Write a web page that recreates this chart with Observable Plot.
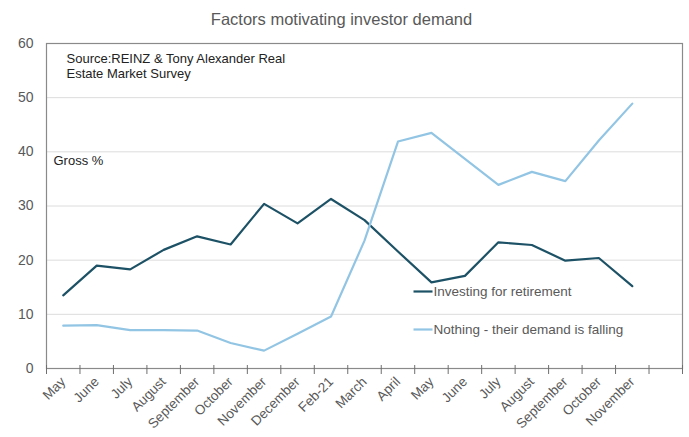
<!DOCTYPE html>
<html>
<head>
<meta charset="utf-8">
<script src="https://cdn.jsdelivr.net/npm/d3@7"></script>
<script src="https://cdn.jsdelivr.net/npm/@observablehq/plot@0.6"></script>
<style>
  html, body { margin: 0; padding: 0; background: #fff; }
  #chart svg { display: block; }
</style>
</head>
<body>
<div id="chart"></div>
<script>
const months = ["May","June","July","August","September","October","November","December","Feb-21","March","April","May","June","July","August","September","October","November"];
const retirement = [13.5, 19.0, 18.3, 21.9, 24.4, 22.9, 30.4, 26.8, 31.3, 27.4, 21.6, 15.9, 17.1, 23.3, 22.8, 19.9, 20.4, 15.2];
const falling = [7.9, 8.0, 7.1, 7.1, 7.0, 4.7, 3.3, 6.4, 9.6, 23.6, 41.9, 43.5, 38.7, 33.9, 36.3, 34.6, 42.1, 48.9];
const seriesNames = ["Investing for retirement", "Nothing - their demand is falling"];
const seriesColors = ["#1d5266", "#92c5e4"];
const yTicks = [0, 10, 20, 30, 40, 50, 60];
const nSlots = 19; // one empty slot after the last month

const rows = [];
months.forEach((m, i) => {
  rows.push({i: i + 0.5, v: retirement[i], s: seriesNames[0]});
  rows.push({i: i + 0.5, v: falling[i], s: seriesNames[1]});
});

const font = "Liberation Sans, Arial, sans-serif";
const lineSym = {draw(ctx, size) { ctx.moveTo(-9.5, 0); ctx.lineTo(9.5, 0); }};

function legendItem(k, dy) {
  return [
    Plot.dot([seriesNames[k]], {frameAnchor: "top-left", dx: 376.5, dy, symbol: lineSym, stroke: seriesColors[k], fill: "none", strokeWidth: 2.2, r: 3}),
    Plot.text([seriesNames[k]], {frameAnchor: "top-left", dx: 387, dy, lineAnchor: "middle", textAnchor: "start", fontSize: 13.5, fill: "#595959"})
  ];
}

const chart = Plot.plot({
  width: 689,
  height: 437,
  marginLeft: 46,
  marginRight: 7,
  marginTop: 43,
  marginBottom: 69,
  style: {fontFamily: font, background: "#fff"},
  x: {domain: [0, nSlots], axis: null},
  y: {domain: [0, 60], axis: null},
  color: {domain: seriesNames, range: seriesColors},
  marks: [
    Plot.gridY(yTicks.slice(1, -1), {stroke: "#dcdcdc", strokeOpacity: 1}),
    Plot.frame({stroke: "#8a8a8a", strokeWidth: 1.2}),
    Plot.axisY({ticks: yTicks, tickSize: 0, tickPadding: 13, fontSize: 14, color: "#595959", label: null}),
    Plot.axisX({ticks: d3.range(0, nSlots + 1), tickSize: 6, tickFormat: () => "", stroke: "#6f6f6f", label: null}),
    Plot.axisX({ticks: d3.range(0, nSlots + 1), tickSize: -3, tickFormat: () => "", stroke: "#6f6f6f", label: null}),
    Plot.axisX({ticks: months.map((m, i) => i + 0.5), tickSize: 0, tickPadding: 11, label: null,
      tickFormat: d => months[Math.round(d - 0.5)], tickRotate: -45, fontSize: 13.5, color: "#595959"}),
    Plot.line(rows, {x: "i", y: "v", z: "s", stroke: "s", strokeWidth: 2.2}),
    Plot.text(["Factors motivating investor demand"], {frameAnchor: "top", dx: -23, dy: -24, lineAnchor: "middle", fontSize: 16.5, fill: "#595959"}),
    Plot.text(["Source:REINZ & Tony Alexander Real\nEstate Market Survey"], {frameAnchor: "top-left", dx: 20, dy: 9, lineAnchor: "top", textAnchor: "start", fontSize: 13, lineHeight: 1.15, fill: "#222"}),
    Plot.text(["Gross %"], {frameAnchor: "top-left", dx: 7, dy: 117, lineAnchor: "middle", textAnchor: "start", fontSize: 13, fill: "#222"}),
    ...legendItem(0, 248),
    ...legendItem(1, 286)
  ]
});
document.getElementById("chart").appendChild(chart);
</script>
</body>
</html>
